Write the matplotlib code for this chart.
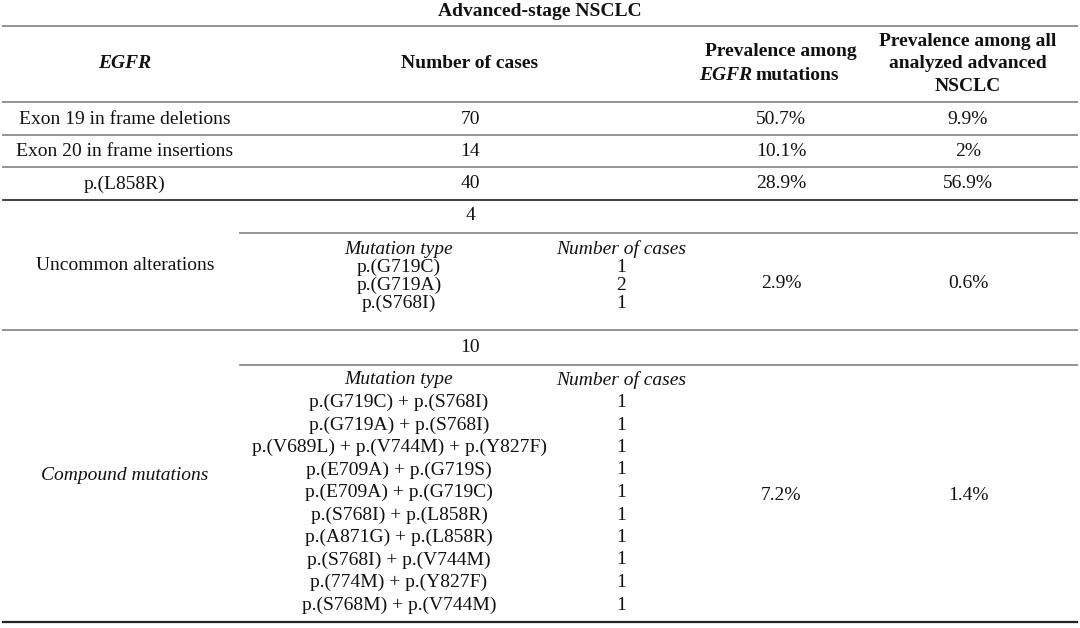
import matplotlib.pyplot as plt

# table data
title = "Advanced-stage NSCLC"
categories = ["Exon 19 in frame deletions", "Exon 20 in frame insertions", "p.(L858R)"]
cases = ["70", "14", "40"]
prev_egfr = ["50.7%", "10.1%", "28.9%"]
prev_all = ["9.9%", "2%", "56.9%"]

uncommon_total = "4"
uncommon_types = ["p.(G719C)", "p.(G719A)", "p.(S768I)"]
uncommon_counts = ["1", "2", "1"]
uncommon_prev = ["2.9%", "0.6%"]

compound_total = "10"
compound_types = ["p.(G719C) + p.(S768I)", "p.(G719A) + p.(S768I)",
                  "p.(V689L) + p.(V744M) + p.(Y827F)", "p.(E709A) + p.(G719S)",
                  "p.(E709A) + p.(G719C)", "p.(S768I) + p.(L858R)",
                  "p.(A871G) + p.(L858R)", "p.(S768I) + p.(V744M)",
                  "p.(774M) + p.(Y827F)", "p.(S768M) + p.(V744M)"]
compound_counts = ["1"] * 10
compound_prev = ["7.2%", "1.4%"]

plt.rcParams['font.family'] = ['Liberation Serif', 'DejaVu Serif']
fs = 14

fig = plt.figure(figsize=(10.8, 6.28), dpi=100)
ax = fig.add_axes([0, 0, 1, 1])
ax.set_xlim(0, 1080)
ax.set_ylim(628, 0)
ax.axis('off')

# column centres
c1, c2, c3, c4 = 125, 470, 781, 968
s1, s2 = 399, 621

def txt(x, y, s, ha='center', **kw):
    ax.text(x, y, s, ha=ha, va='center', fontsize=kw.pop('size', fs), color='#111111', **kw)

# title + header
txt(540, 12, title, weight='bold')
txt(c1, 64, "EGFR", weight='bold', style='italic')
txt(c2, 64, "Number of cases", weight='bold')
txt(c3, 52, "Prevalence among", weight='bold')
txt(752, 75, "EGFR", ha='right', weight='bold', style='italic')
txt(756, 75, "mutations", ha='left', weight='bold')
txt(c4, 64, "Prevalence among all\nanalyzed advanced\nNSCLC", weight='bold', linespacing=1.4)

# horizontal rules
grey = '#8a8a8a'
for y in [26, 102, 135, 167, 330]:
    ax.axhline(y, xmin=3/1080, xmax=1077/1080, color=grey, lw=1.3)
ax.axhline(200, xmin=3/1080, xmax=1077/1080, color='#333333', lw=1.3)
ax.axhline(622, xmin=3/1080, xmax=1077/1080, color='#222222', lw=1.6)
for y in [233, 365]:
    ax.axhline(y, xmin=240/1080, xmax=1077/1080, color=grey, lw=1.3)

# common mutation rows
row_y = [119, 151, 184]
for i, y in enumerate(row_y):
    txt(c1, y, categories[i])
    txt(c2, y, cases[i])
    txt(c3, y, prev_egfr[i])
    txt(c4, y, prev_all[i])

# uncommon alterations block
txt(c2, 215, uncommon_total)
txt(c1, 265, "Uncommon alterations")
txt(s1, 249, "Mutation type", style='italic')
txt(s2, 249, "Number of cases", style='italic')
for i, (m, n) in enumerate(zip(uncommon_types, uncommon_counts)):
    y = 249 + 18 * (i + 1)
    txt(s1, y, m)
    txt(s2, y, n)
txt(c3, 284, uncommon_prev[0])
txt(c4, 284, uncommon_prev[1])

# compound mutations block
txt(c2, 348, compound_total)
txt(c1, 476, "Compound mutations", style='italic')
txt(s1, 380, "Mutation type", style='italic')
txt(s2, 380, "Number of cases", style='italic')
for i, (m, n) in enumerate(zip(compound_types, compound_counts)):
    y = 380 + 22.5 * (i + 1)
    txt(s1, y, m)
    txt(s2, y, n)
txt(c3, 495, compound_prev[0])
txt(c4, 495, compound_prev[1])

fig.savefig("out.png", dpi=100, facecolor='white')
